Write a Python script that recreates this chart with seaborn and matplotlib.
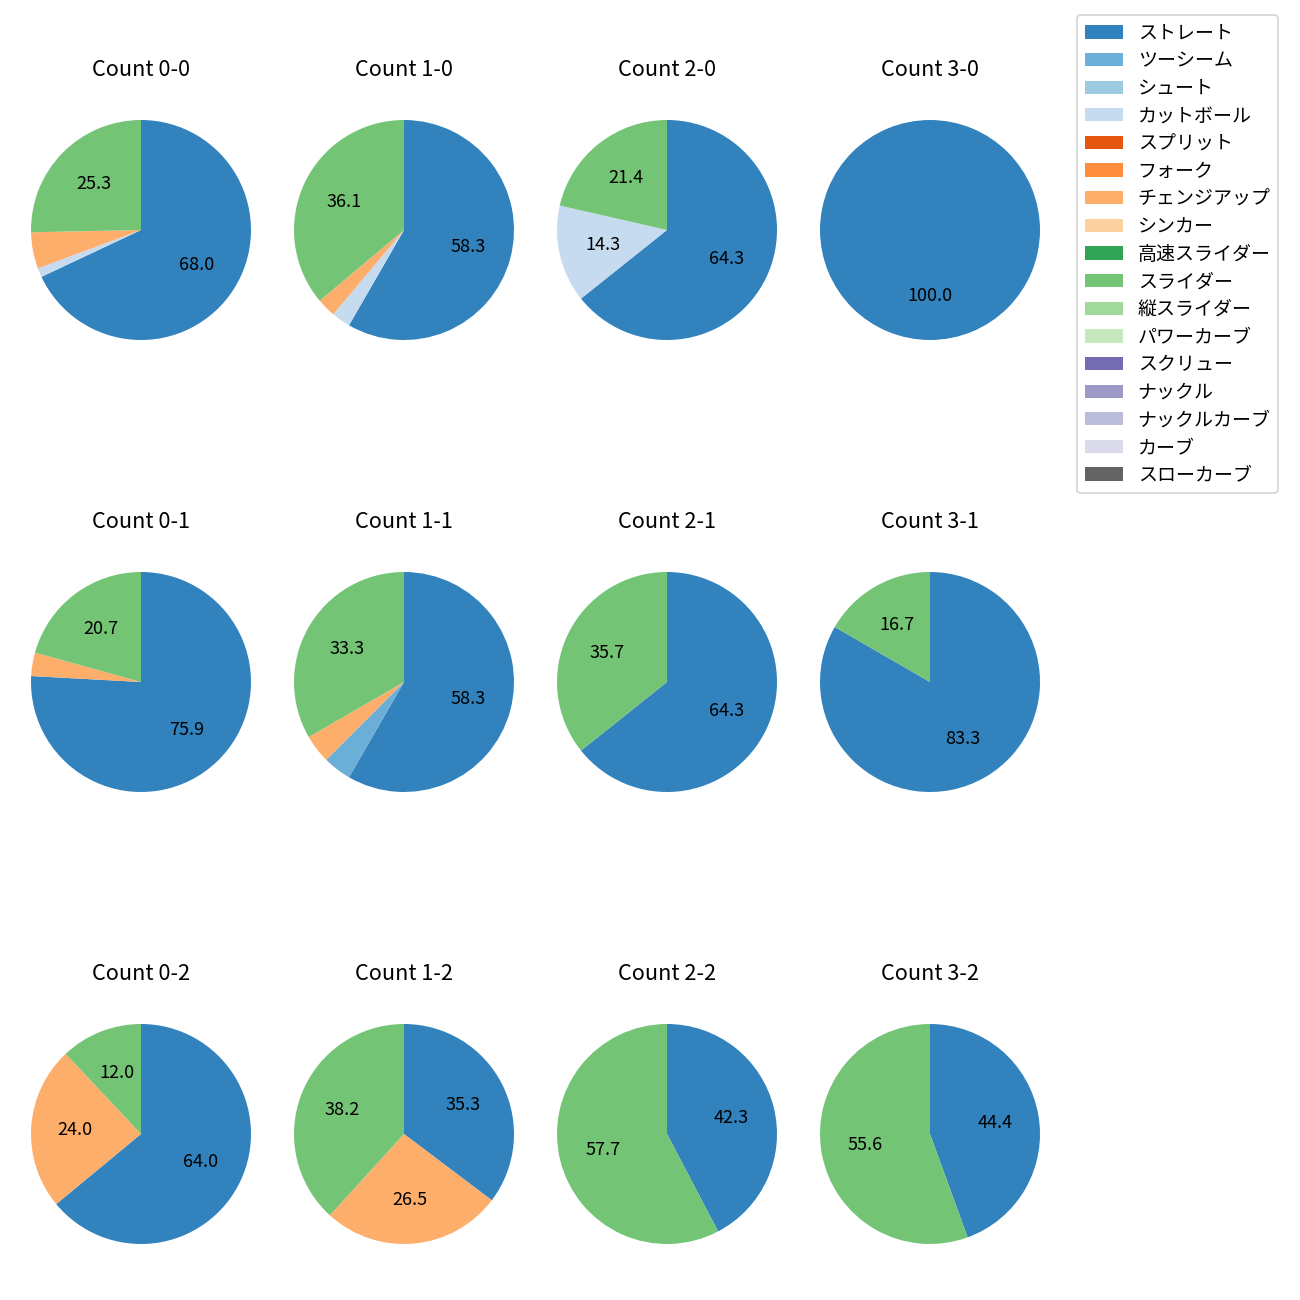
import matplotlib
matplotlib.use('Agg')
import matplotlib.pyplot as plt
from matplotlib.patches import Patch
import seaborn as sns

sns.set_style("white")
plt.rcParams['font.family'] = ['Noto Sans CJK JP', 'DejaVu Sans']
plt.rcParams['text.color'] = 'black'

pitch_types = ['ストレート', 'ツーシーム', 'シュート', 'カットボール', 'スプリット', 'フォーク',
               'チェンジアップ', 'シンカー', '高速スライダー', 'スライダー', '縦スライダー',
               'パワーカーブ', 'スクリュー', 'ナックル', 'ナックルカーブ', 'カーブ', 'スローカーブ']
colors = sns.color_palette('tab20c', 17)

count_labels = ['0-0', '1-0', '2-0', '3-0',
                '0-1', '1-1', '2-1', '3-1',
                '0-2', '1-2', '2-2', '3-2']

# pitch counts per ball-strike count (same order as count_labels)
straight = [51, 21, 9, 3, 22, 14, 9, 5, 16, 12, 11, 4]
twoseam = [0, 0, 0, 0, 0, 1, 0, 0, 0, 0, 0, 0]
cutball = [1, 1, 2, 0, 0, 0, 0, 0, 0, 0, 0, 0]
changeup = [4, 1, 0, 0, 1, 1, 0, 0, 6, 9, 0, 0]
slider = [19, 13, 3, 0, 6, 8, 5, 1, 3, 13, 15, 5]

series = {
    'ストレート': straight,
    'ツーシーム': twoseam,
    'カットボール': cutball,
    'チェンジアップ': changeup,
    'スライダー': slider,
}

fig, axes = plt.subplots(3, 4, figsize=(10, 10), dpi=130)
fig.subplots_adjust(left=3.5 / 1300, right=1067.5 / 1300, top=1 - 92.5 / 1300,
                    bottom=1 - 1271.5 / 1300, wspace=-0.0436, hspace=0.6436)


def autopct(p):
    return '{:.1f}'.format(p) if p >= 10 else ''


for i, cnt in enumerate(count_labels):
    ax = axes.flat[i]
    vals, cols = [], []
    for name, c in zip(pitch_types, colors):
        if name in series and series[name][i] > 0:
            vals.append(series[name][i])
            cols.append(c)
    ax.pie(vals, colors=cols, startangle=90, counterclock=False, autopct=autopct,
           textprops={'fontsize': 10, 'color': 'black'},
           wedgeprops={'linewidth': 0, 'edgecolor': 'none'})
    ax.set_title('Count ' + cnt, fontsize=12, pad=9, color='black')

handles = [Patch(facecolor=c, edgecolor='none', label=n) for n, c in zip(pitch_types, colors)]
fig.legend(handles=handles, loc='upper left', bbox_to_anchor=(1077 / 1300, 1 - 15 / 1300),
           borderaxespad=0, fontsize=10.5, labelspacing=0.35)

fig.savefig('out.png', dpi=130)
